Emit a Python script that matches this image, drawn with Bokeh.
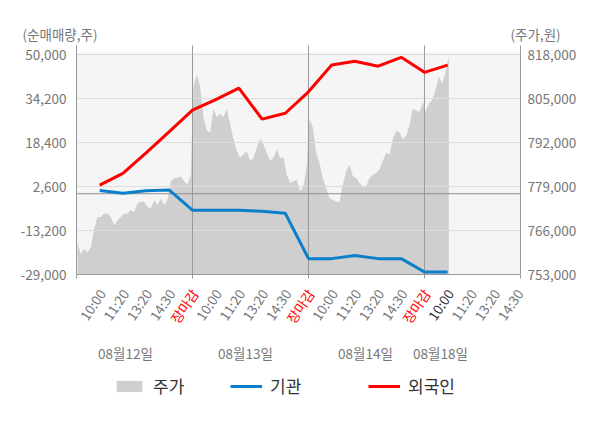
import math
import numpy as np
from bokeh.plotting import figure
from bokeh.layouts import column, row
from bokeh.models import (Range1d, LinearAxis, FixedTicker, NumeralTickFormatter, Span,
                          ColumnDataSource, LabelSet, Label, Legend, LegendItem)
from bokeh.core.properties import value, field
from bokeh.embed import file_html
from bokeh.resources import INLINE

# ---------------- data ----------------
day_names = ["08월12일", "08월13일", "08월14일", "08월18일"]
tick_labels = ["10:00", "11:20", "13:20", "14:30", "장마감",
               "10:00", "11:20", "13:20", "14:30", "장마감",
               "10:00", "11:20", "13:20", "14:30", "장마감",
               "10:00", "11:20", "13:20", "14:30"]

# net buying (shares) at each labelled time slot, slot 1 .. 16
foreign = [3100, 7300, 14700, 22300, 30000, 33800, 37900, 26800,
           28900, 36600, 46200, 47600, 45800, 49000, 43600, 46200]
institution = [1200, 200, 1100, 1300, -5900, -5900, -5900, -6300,
               -7000, -23300, -23300, -22200, -23300, -23300, -28100, -28100]

# stock price (won), intraday samples per day
price_day1 = [762500, 759000, 760500, 759500, 761000, 766500, 770000, 770000, 771000,
              771000, 770000, 767500, 769000, 770000, 771000, 771000, 772000, 771500,
              774000, 774500, 774500, 773000, 772500, 775000, 773500, 775500, 773500,
              775000, 780500, 781500, 781500, 782000, 780500, 779500, 782500]
price_day2 = [808500, 812000, 808500, 799500, 795500, 795000, 802000, 799500, 800500,
              799500, 802000, 797500, 793000, 789500, 787500, 788500, 789500, 786500,
              787500, 790500, 793000, 791500, 789000, 786500, 787500, 790000, 787500,
              787500, 782500, 780000, 780500, 781000, 777500, 779000, 785500]
price_day3 = [799000, 796500, 789000, 786000, 781500, 778500, 775500, 775000, 774500,
              774500, 779500, 783500, 785500, 782000, 781500, 780000, 779000, 779000,
              781500, 782500, 783000, 784000, 786500, 789000, 788500, 793000, 795500,
              795000, 793000, 794000, 797000, 802000, 801500, 801000, 804000]
price_day4 = [801000, 803500, 804500, 807500, 811500, 809500, 812500, 817500]

left_ticks = [-29000, -13200, 2600, 18400, 34200, 50000]
right_ticks = [753000, 766000, 779000, 792000, 805000, 818000]

# ---------------- layout / style ----------------
FONT = "Noto Sans CJK KR"
GRAY_TXT = "#777777"
W = 592
TOP_H = 44
BL, BR = 76, 72
FW, FH = W - BL - BR, 222
MAIN_BT, MAIN_BB = 8, 12
FRAME_BOTTOM = TOP_H + MAIN_BT + FH
BOT_TOP = FRAME_BOTTOM + MAIN_BB
BOT_H = 420 - BOT_TOP
X_END = 19.14
SLOTS_PER_DAY = 5
SAMPLES_PER_DAY = 34.8
LEFT_RANGE = (-29000, -29000 + FH * 15800 / 44)
RIGHT_RANGE = (753000, 753000 + FH * 13000 / 44)

def xd(px):
    """page pixel x -> x data value (same scale in every strip)"""
    return (px - BL) * X_END / FW

# ---------------- main figure ----------------
p = figure(frame_width=FW, frame_height=FH, output_backend="svg", toolbar_location=None,
           x_range=Range1d(0, X_END), y_range=Range1d(*LEFT_RANGE),
           min_border_left=BL, min_border_right=BR, min_border_top=MAIN_BT, min_border_bottom=MAIN_BB,
           background_fill_color="#f5f5f5", border_fill_color="white",
           outline_line_color=None, x_axis_location=None, y_axis_location=None)
p.extra_y_ranges = {"price": Range1d(*RIGHT_RANGE)}

p.xgrid.visible = False
p.ygrid.ticker = FixedTicker(ticks=left_ticks)
p.ygrid.grid_line_color = "#dddddd"
p.ygrid.grid_line_width = 1
p.ygrid.level = "underlay"

px_all, py_all = [], []
for d, arr in enumerate([price_day1, price_day2, price_day3, price_day4]):
    for i, v in enumerate(arr):
        px_all.append(SLOTS_PER_DAY * d + (i + 0.3) * SLOTS_PER_DAY / SAMPLES_PER_DAY)
        py_all.append(v)
p.varea(x=px_all, y1=RIGHT_RANGE[0], y2=py_all, fill_color="#cfcfcf",
        y_range_name="price", level="image")

p.add_layout(Span(location=0, dimension="width", line_color="#8c8c8c", line_width=1, level="underlay"))
for xs in [5, 10, 15]:
    p.add_layout(Span(location=xs, dimension="height", line_color="#999999", line_width=1, level="underlay"))

slot_x = list(range(1, len(foreign) + 1))
p.line(slot_x, institution, line_color="#0b7fcc", line_width=3)
p.line(slot_x, foreign, line_color="#ff0000", line_width=3)

left = LinearAxis(ticker=FixedTicker(ticks=left_ticks), formatter=NumeralTickFormatter(format="0,0"))
right = LinearAxis(y_range_name="price", ticker=FixedTicker(ticks=right_ticks),
                   formatter=NumeralTickFormatter(format="0,0"))
for ax, st in [(left, 10), (right, 7)]:
    ax.axis_line_color = "#999999"
    ax.major_tick_out = 0
    ax.major_tick_in = 0
    ax.minor_tick_line_color = None
    ax.major_label_standoff = st
    ax.major_label_text_font = FONT
    ax.major_label_text_font_size = "13.5px"
    ax.major_label_text_color = GRAY_TXT
p.add_layout(left, "left")
p.add_layout(right, "right")

edge_ticks = [0, 5, 10, 15, X_END - 0.001]
below = LinearAxis(ticker=FixedTicker(ticks=edge_ticks))
above = LinearAxis(ticker=FixedTicker(ticks=edge_ticks))
for ax, out in [(below, 4), (above, 7)]:
    ax.major_tick_out = out
    ax.major_tick_in = 0
    ax.major_tick_line_color = "#999999"
    ax.minor_tick_line_color = None
    ax.major_label_text_font_size = "0px"
    ax.major_label_text_color = None
    ax.major_label_standoff = 0
below.axis_line_color = "#999999"
above.axis_line_color = None
p.add_layout(below, "below")
p.add_layout(above, "above")

# ---------------- top strip (axis titles) ----------------
top = figure(width=W, height=TOP_H, output_backend="svg", toolbar_location=None,
             x_range=Range1d(xd(0), xd(W)), y_range=Range1d(0, TOP_H),
             min_border=0, outline_line_color=None, x_axis_location=None, y_axis_location=None)
top.grid.visible = False
top.background_fill_color = None
top.add_layout(Label(x=xd(22), y=TOP_H - 33, text="(순매매량,주)", text_align="left",
                     text_baseline="middle", text_font=FONT, text_font_size="13.5px",
                     text_color=GRAY_TXT))
top.add_layout(Label(x=xd(510), y=TOP_H - 33, text="(주가,원)", text_align="left",
                     text_baseline="middle", text_font=FONT, text_font_size="13.5px",
                     text_color=GRAY_TXT))

# ---------------- bottom strip (x labels, dates, legend) ----------------
bot = figure(width=W, height=BOT_H, output_backend="svg", toolbar_location=None,
             x_range=Range1d(xd(0), xd(W)), y_range=Range1d(0, BOT_H),
             min_border=0, outline_line_color=None, x_axis_location=None, y_axis_location=None)
bot.grid.visible = False
bot.background_fill_color = None

def yb(py):
    return BOT_TOP + BOT_H - py

tick_x = list(range(1, len(tick_labels) + 1))
colors = []
for i, t in enumerate(tick_labels):
    if t == "장마감":
        colors.append("#ff0000")
    elif i == 15:
        colors.append("#333333")
    else:
        colors.append(GRAY_TXT)
src = ColumnDataSource(dict(x=[t + 2 * X_END / FW for t in tick_x], y=[yb(290)] * len(tick_x),
                            text=tick_labels, color=colors))
bot.add_layout(LabelSet(x="x", y="y", text="text", source=src, angle=56 * math.pi / 180,
                        text_align="right", text_baseline="middle", text_color=field("color"),
                        text_font=value(FONT), text_font_size="13.5px"))

day_px = [125, 245, 365, 440]
for name, dx in zip(day_names, day_px):
    bot.add_layout(Label(x=xd(dx), y=yb(352), text=name, text_align="center", text_baseline="middle",
                         text_font=FONT, text_font_size="13.5px", text_color=GRAY_TXT))

far = xd(-300)
lg_area = bot.varea(x=[far, far + 0.1], y1=[0, 0], y2=[1, 1], fill_color="#cfcfcf")
lg_inst = bot.line(x=[far, far + 0.1], y=[0, 0], line_color="#0b7fcc", line_width=3)
lg_for = bot.line(x=[far, far + 0.1], y=[0, 0], line_color="#ff0000", line_width=3)
for lab, rend, lx in [("주가", lg_area, 113), ("기관", lg_inst, 230), ("외국인", lg_for, 368)]:
    lg = Legend(items=[LegendItem(label=lab, renderers=[rend])], location=(lx, yb(398)),
                orientation="horizontal", border_line_color=None, background_fill_alpha=0,
                padding=0, margin=0, glyph_width=32, glyph_height=14, label_standoff=8,
                label_text_font=FONT, label_text_font_size="17px", label_text_color="#333333")
    bot.add_layout(lg, "center")

layout = column(row(top), p, row(bot), spacing=0)
open("out.html", "w").write(file_html(layout, INLINE))
